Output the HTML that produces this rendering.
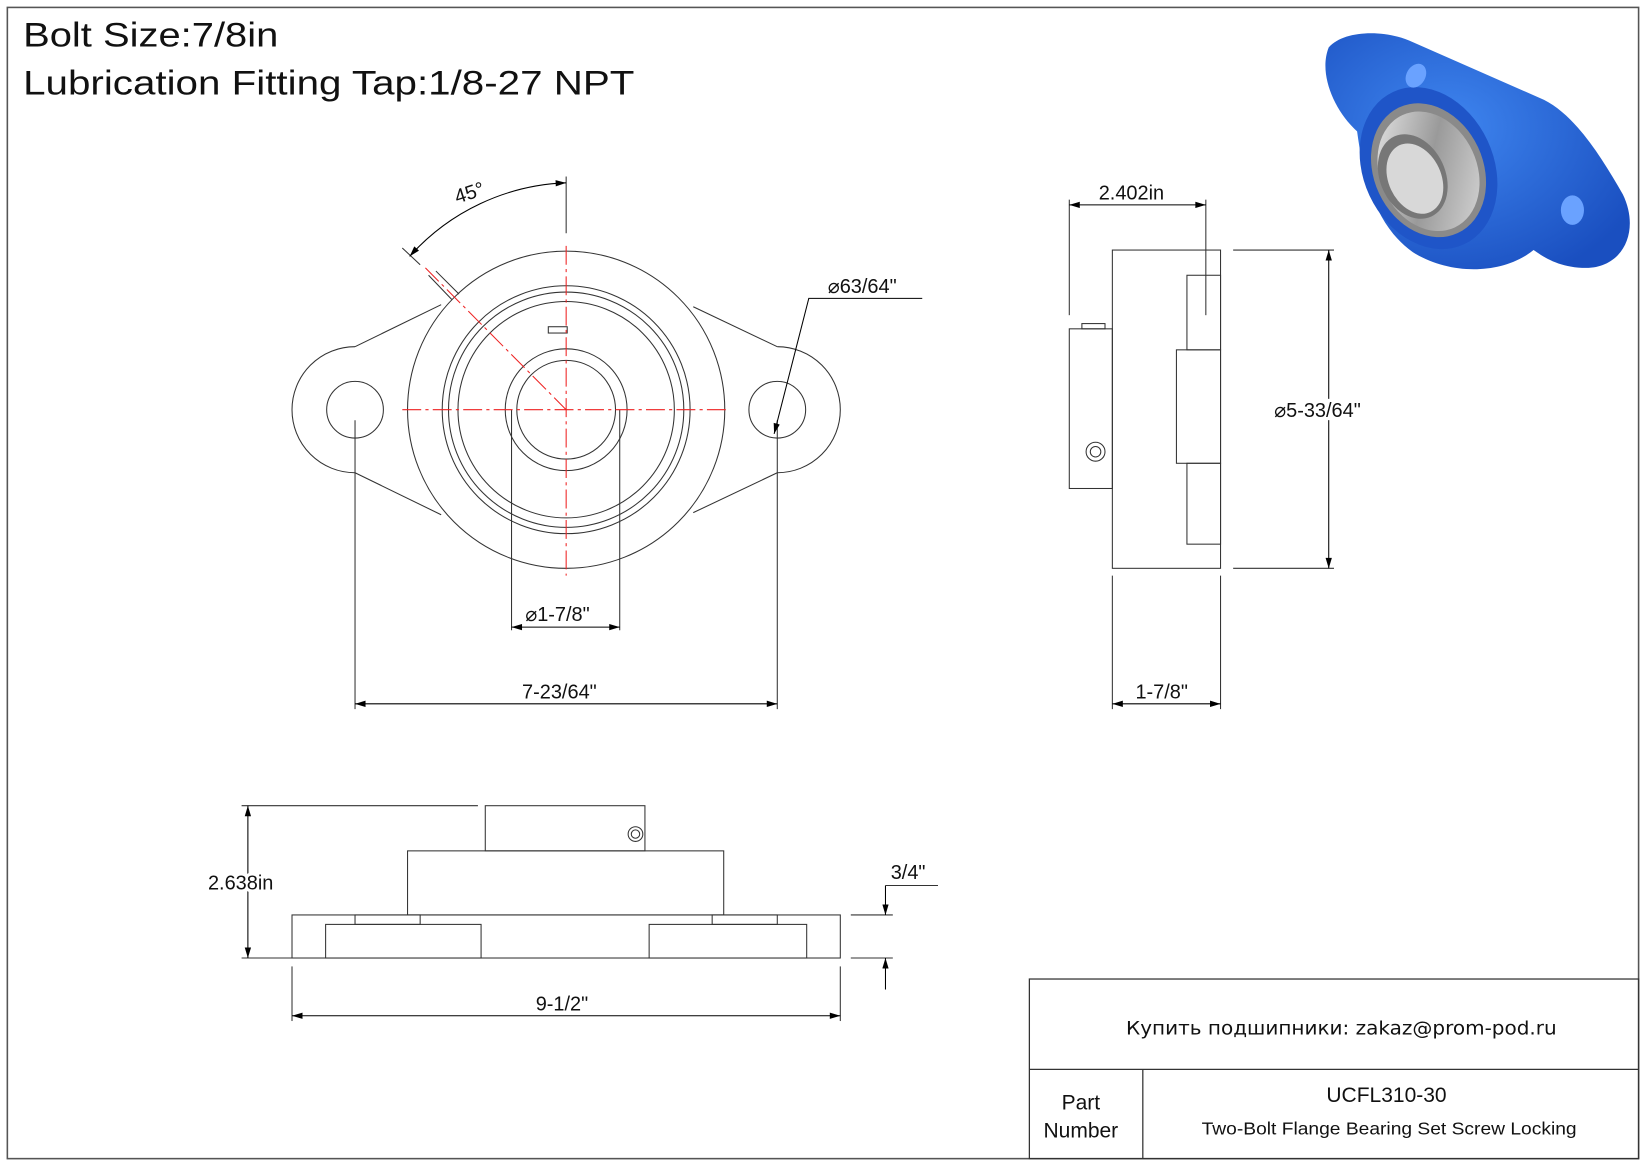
<!DOCTYPE html>
<html><head><meta charset="utf-8"><style>
html,body{margin:0;padding:0;background:#fff}
svg{display:block}
text{font-family:"Liberation Sans",sans-serif;fill:#111}
</style></head><body>
<svg width="1647" height="1165" viewBox="0 0 1568 1109" xmlns="http://www.w3.org/2000/svg">
<defs>
<marker id="a" viewBox="0 0 10 6" refX="10" refY="3" markerWidth="14" markerHeight="6" markerUnits="userSpaceOnUse" orient="auto-start-reverse"><path d="M0,0L10,3L0,6z" fill="#000"/></marker>
<radialGradient id="bl" cx="40%" cy="40%" r="70%"><stop offset="0" stop-color="#3f86f0"/><stop offset="1" stop-color="#1a4fc0"/></radialGradient>
<linearGradient id="st" x1="0" y1="0" x2="1" y2="1"><stop offset="0" stop-color="#eee"/><stop offset=".5" stop-color="#9a9a9a"/><stop offset="1" stop-color="#ddd"/></linearGradient>
</defs>
<rect x="7" y="7" width="1553" height="1096" fill="none" stroke="#555" stroke-width="1.5"/>
<text x="22" y="44" font-size="33" textLength="243" lengthAdjust="spacingAndGlyphs">Bolt Size:7/8in</text>
<text x="22" y="90" font-size="33" textLength="582" lengthAdjust="spacingAndGlyphs">Lubrication Fitting Tap:1/8-27 NPT</text>

<!-- 3D image -->
<g>
<path d="M1265,45 C1280,28 1320,28 1345,40 L1470,95 C1500,110 1525,150 1545,185 C1562,220 1545,255 1510,255 C1485,255 1470,245 1460,238 C1430,262 1380,262 1345,240 C1310,215 1298,170 1292,125 C1270,105 1255,70 1265,45Z" fill="url(#bl)"/>
<ellipse cx="1360" cy="160" rx="62" ry="80" transform="rotate(-25 1360 160)" fill="#1f55c8"/>
<ellipse cx="1360" cy="162" rx="52" ry="66" transform="rotate(-25 1360 162)" fill="#8a8a8a"/>
<ellipse cx="1360" cy="163" rx="46" ry="59" transform="rotate(-25 1360 163)" fill="url(#st)"/>
<ellipse cx="1345" cy="168" rx="31" ry="42" transform="rotate(-25 1345 168)" fill="#777"/>
<ellipse cx="1347" cy="170" rx="25" ry="35" transform="rotate(-25 1347 170)" fill="#d8d8d8"/>
<ellipse cx="1348" cy="72" rx="9" ry="12" transform="rotate(30 1348 72)" fill="#6aa2ff"/>
<ellipse cx="1497" cy="200" rx="11" ry="14" fill="#6aa2ff"/>
</g>

<!-- Front view -->
<g fill="none" stroke="#333" stroke-width="1">
<path d="M338,330 L420,290 M338,450 L420,490 M740,330 L660,292 M740,450 L660,488"/>
<path d="M338,330 A60,60 0 0 0 338,450 M740,330 A60,60 0 0 1 740,450"/>
<circle cx="338" cy="390" r="27"/><circle cx="740" cy="390" r="27"/>
<circle cx="539" cy="390" r="151" fill="#fff"/>
<circle cx="539" cy="390" r="118"/><circle cx="539" cy="390" r="112"/>
<circle cx="539" cy="390" r="103"/>
<circle cx="539" cy="390" r="58"/><circle cx="539" cy="390" r="47"/>
<rect x="522" y="311" width="18" height="6"/>
<path d="M408,262 L430,285 M415,258 L437,280"/>
<line x1="487" y1="390" x2="487" y2="600"/><line x1="590" y1="390" x2="590" y2="600"/>
<line x1="338" y1="400" x2="338" y2="675"/><line x1="740" y1="400" x2="740" y2="675"/>
<line x1="539" y1="168" x2="539" y2="222"/>
<line x1="383" y1="236" x2="400" y2="252"/>
</g>
<g stroke="#e22" stroke-width="1" stroke-dasharray="18,4,3,4" fill="none">
<line x1="383" y1="390" x2="695" y2="390"/><line x1="539" y1="234" x2="539" y2="548"/>
<line x1="405" y1="255" x2="539" y2="390"/>
</g>
<g stroke="#000" stroke-width="1" fill="none">
<path d="M390,244 A210,210 0 0 1 539,174" marker-start="url(#a)" marker-end="url(#a)"/>
<line x1="338" y1="670" x2="740" y2="670" marker-start="url(#a)" marker-end="url(#a)"/>
<line x1="487" y1="597" x2="590" y2="597" marker-start="url(#a)" marker-end="url(#a)"/>
<path d="M878,284 L770,284 L737,413" marker-end="url(#a)"/>
</g>
<text x="432" y="190" font-size="19" transform="rotate(-18 446 182)">45°</text>
<text x="788" y="279" font-size="19">⌀63/64"</text>
<text x="500" y="591" font-size="19">⌀1-7/8"</text>
<text x="497" y="665" font-size="19">7-23/64"</text>

<!-- Side view -->
<g fill="none" stroke="#333" stroke-width="1">
<rect x="1059" y="238" width="103" height="303"/>
<rect x="1018" y="313" width="41" height="152"/>
<rect x="1130" y="262" width="32" height="71"/>
<rect x="1120" y="333" width="42" height="108"/>
<rect x="1130" y="441" width="32" height="77"/>
<rect x="1030" y="308" width="22" height="5"/>
<circle cx="1043" cy="430" r="9"/><circle cx="1043" cy="430" r="5"/>
<line x1="1018" y1="190" x2="1018" y2="300"/><line x1="1148" y1="190" x2="1148" y2="300"/>
<line x1="1174" y1="238" x2="1270" y2="238"/><line x1="1174" y1="541" x2="1270" y2="541"/>
<line x1="1059" y1="548" x2="1059" y2="675"/><line x1="1162" y1="548" x2="1162" y2="675"/>
</g>
<g stroke="#000" fill="none">
<line x1="1018" y1="195" x2="1148" y2="195" marker-start="url(#a)" marker-end="url(#a)"/>
<line x1="1265" y1="238" x2="1265" y2="541" marker-start="url(#a)" marker-end="url(#a)"/>
<line x1="1059" y1="670" x2="1162" y2="670" marker-start="url(#a)" marker-end="url(#a)"/>
</g>
<text x="1046" y="190" font-size="19">2.402in</text>
<text x="1213" y="397" font-size="19" style="paint-order:stroke;stroke:#fff;stroke-width:6px">⌀5-33/64"</text>
<text x="1081" y="665" font-size="19">1-7/8"</text>

<!-- Bottom view -->
<g fill="none" stroke="#333" stroke-width="1">
<rect x="278" y="871" width="522" height="41"/>
<rect x="310" y="880" width="148" height="32"/>
<rect x="618" y="880" width="150" height="32"/>
<rect x="338" y="871" width="62" height="9"/><rect x="678" y="871" width="62" height="9"/>
<rect x="388" y="810" width="301" height="61"/>
<rect x="462" y="767" width="152" height="43"/>
<circle cx="605" cy="794" r="7"/><circle cx="605" cy="794" r="4"/>
<line x1="230" y1="767" x2="455" y2="767"/><line x1="230" y1="912" x2="278" y2="912"/>
<line x1="278" y1="920" x2="278" y2="972"/><line x1="800" y1="920" x2="800" y2="972"/>
<line x1="810" y1="871" x2="850" y2="871"/><line x1="810" y1="912" x2="850" y2="912"/>
<line x1="843" y1="843" x2="893" y2="843"/>
</g>
<g stroke="#000" fill="none">
<line x1="236" y1="767" x2="236" y2="912" marker-start="url(#a)" marker-end="url(#a)"/>
<line x1="278" y1="967" x2="800" y2="967" marker-start="url(#a)" marker-end="url(#a)"/>
<line x1="843" y1="843" x2="843" y2="871" marker-end="url(#a)"/>
<line x1="843" y1="942" x2="843" y2="912" marker-end="url(#a)"/>
</g>
<text x="198" y="847" font-size="19" style="paint-order:stroke;stroke:#fff;stroke-width:6px">2.638in</text>
<text x="848" y="837" font-size="19">3/4"</text>
<text x="510" y="962" font-size="19">9-1/2"</text>

<!-- Title block -->
<g fill="none" stroke="#333" stroke-width="1.2">
<rect x="980" y="932" width="580" height="171"/>
<line x1="980" y1="1018" x2="1560" y2="1018"/>
<line x1="1088" y1="1018" x2="1088" y2="1103"/>
</g>
<text x="1072" y="985" font-size="18" textLength="410" lengthAdjust="spacingAndGlyphs" style="font-family:'DejaVu Sans',sans-serif">Купить подшипники: zakaz@prom-pod.ru</text>
<text x="1029" y="1056" font-size="20" text-anchor="middle">Part</text>
<text x="1029" y="1083" font-size="20" text-anchor="middle">Number</text>
<text x="1320" y="1049" font-size="20" text-anchor="middle">UCFL310-30</text>
<text x="1144" y="1080" font-size="17" textLength="357" lengthAdjust="spacingAndGlyphs">Two-Bolt Flange Bearing Set Screw Locking</text>
</svg>
</body></html>
